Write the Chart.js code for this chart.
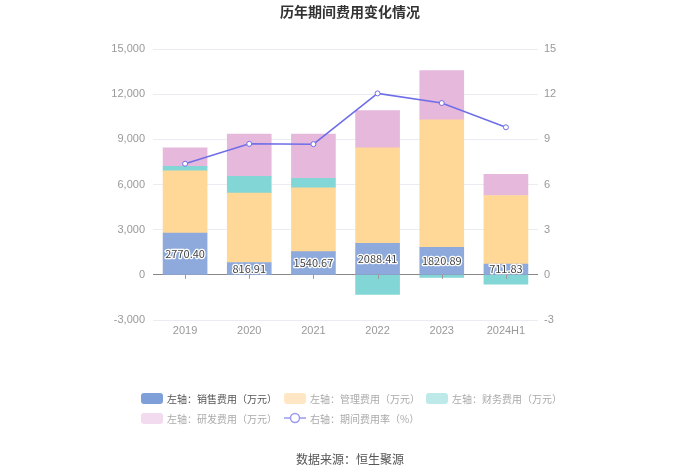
<!DOCTYPE html>
<html lang="zh">
<head>
<meta charset="UTF-8">
<title>历年期间费用变化情况</title>
<script src="https://cdn.jsdelivr.net/npm/chart.js"></script>
<style>
    body { margin: 0; background: #fff; font-family: "Noto Sans CJK SC", sans-serif; }
    .wrap { position: relative; width: 700px; height: 474px; }
    canvas { display: block; }
    .title { position: absolute; top: 1px; left: 0; width: 700px; text-align: center;
             font-size: 14px; font-weight: bold; color: #333; }
    .legend { position: absolute; left: 141px; top: 390px; font-size: 10px; }
    .legend .item { position: absolute; white-space: nowrap; display: flex; align-items: center; height: 16px; }
    .legend .box { width: 22px; height: 11px; border-radius: 3px; margin-right: 4px; }
    .source { position: absolute; top: 450px; left: 0; width: 700px; text-align: center; font-size: 12px; color: #555; }
</style>
</head>
<body>
<div class="wrap">
    <canvas id="chart" width="700" height="474"></canvas>
    <div class="title">历年期间费用变化情况</div>
    <div class="legend" id="legend"></div>
    <div class="source">数据来源：恒生聚源</div>
</div>
<script>
    // data
    var years = ['2019', '2020', '2021', '2022', '2023', '2024H1'];
    var salesCost = [2770.40, 816.91, 1540.67, 2088.41, 1820.89, 711.83];
    var adminCost = [4130, 4620, 4230, 6350, 8470, 4556];
    var financeCost = [300, 1100, 640, -1300, -180, -615];
    var rdCost = [1240, 2820, 2930, 2465, 3280, 1408];
    var expenseRate = [7.38, 8.70, 8.68, 12.05, 11.41, 9.80];
    var leftTicks = [-3000, 0, 3000, 6000, 9000, 12000, 15000];
    var rightTicks = [-3, 0, 3, 6, 9, 12, 15];

    var blue = '#8eaadc', orange = '#ffd898', teal = '#82d6d6', pink = '#e6b8dc', purple = '#6e6ee8';

    // value labels on the sales bars
    var barLabels = {
        id: 'barLabels',
        afterDatasetsDraw: function (chart) {
            var ctx = chart.ctx;
            var meta = chart.getDatasetMeta(0);
            ctx.save();
            ctx.font = '11px "Noto Sans CJK SC", sans-serif';
            ctx.textAlign = 'center';
            ctx.textBaseline = 'middle';
            ctx.lineJoin = 'round';
            meta.data.forEach(function (bar, i) {
                var y = (bar.y + bar.base) / 2;
                var txt = salesCost[i].toFixed(2);
                ctx.strokeStyle = '#fff';
                ctx.lineWidth = 2.5;
                ctx.strokeText(txt, bar.x, y);
                ctx.fillStyle = '#444';
                ctx.fillText(txt, bar.x, y);
            });
            // small ticks under the zero line
            var ys = chart.scales.y.getPixelForValue(0);
            ctx.strokeStyle = '#999';
            ctx.lineWidth = 1;
            meta.data.forEach(function (bar) {
                ctx.beginPath();
                ctx.moveTo(Math.round(bar.x) + 0.5, ys);
                ctx.lineTo(Math.round(bar.x) + 0.5, ys + 4);
                ctx.stroke();
            });
            ctx.restore();
        }
    };

    var ctx = document.getElementById('chart').getContext('2d');
    var chart = new Chart(ctx, {
        type: 'bar',
        data: {
            labels: years,
            datasets: [
                { label: '左轴：销售费用（万元）', data: salesCost, backgroundColor: blue, yAxisID: 'y', stack: 's', order: 2 },
                { label: '左轴：管理费用（万元）', data: adminCost, backgroundColor: orange, yAxisID: 'y', stack: 's', order: 2 },
                { label: '左轴：财务费用（万元）', data: financeCost, backgroundColor: teal, yAxisID: 'y', stack: 's', order: 2 },
                { label: '左轴：研发费用（万元）', data: rdCost, backgroundColor: pink, yAxisID: 'y', stack: 's', order: 2 },
                {
                    label: '右轴：期间费用率（%）', type: 'line', data: expenseRate, yAxisID: 'y1', order: 1,
                    borderColor: purple, borderWidth: 1.5, pointRadius: 2.5, pointBorderWidth: 1,
                    pointBackgroundColor: '#fff', pointBorderColor: purple, tension: 0
                }
            ]
        },
        options: {
            responsive: false,
            animation: false,
            layout: { padding: { left: 98, right: 122, top: 49, bottom: 126 } },
            datasets: { bar: { barThickness: 44 } },
            plugins: {
                legend: { display: false },
                tooltip: { enabled: false }
            },
            scales: {
                x: {
                    stacked: true,
                    grid: { display: false, drawTicks: false },
                    border: { display: false },
                    ticks: { color: '#999', font: { size: 11 }, padding: 4 },
                    afterFit: function (s) { s.height = 28; }
                },
                y: {
                    stacked: true,
                    position: 'left',
                    min: -3000, max: 15000,
                    afterBuildTicks: function (s) { s.ticks = leftTicks.map(function (v) { return { value: v }; }); },
                    ticks: {
                        color: '#999', font: { size: 11 }, padding: 8,
                        callback: function (v) { return v.toLocaleString('en-US'); }
                    },
                    grid: {
                        drawTicks: false,
                        color: function (c) { return c.tick && c.tick.value === 0 ? '#888' : '#ebebf2'; }
                    },
                    border: { display: false },
                    afterFit: function (s) { s.width = 55; }
                },
                y1: {
                    position: 'right',
                    min: -3, max: 15,
                    afterBuildTicks: function (s) { s.ticks = rightTicks.map(function (v) { return { value: v }; }); },
                    ticks: { color: '#999', font: { size: 11 }, padding: 6 },
                    grid: { display: false, drawTicks: false },
                    border: { display: false },
                    afterFit: function (s) { s.width = 40; }
                }
            }
        },
        plugins: [barLabels]
    });

    // html legend laid out like the reference
    var legendItems = [
        { text: '左轴：销售费用（万元）', color: '#7f9fd8', textColor: '#555', x: 0, y: 0 },
        { text: '左轴：管理费用（万元）', color: '#ffe6c4', textColor: '#aaa', x: 143, y: 0 },
        { text: '左轴：财务费用（万元）', color: '#bde9e9', textColor: '#aaa', x: 285, y: 0 },
        { text: '左轴：研发费用（万元）', color: '#f2dbee', textColor: '#aaa', x: 0, y: 20 },
        { text: '右轴：期间费用率（%）', line: true, color: '#9a9af0', textColor: '#aaa', x: 143, y: 20 }
    ];
    var legend = document.getElementById('legend');
    legendItems.forEach(function (it) {
        var d = document.createElement('div');
        d.className = 'item';
        d.style.left = it.x + 'px';
        d.style.top = it.y + 'px';
        d.style.color = it.textColor;
        if (it.line) {
            d.innerHTML = '<svg width="22" height="12" style="margin-right:4px"><line x1="0" y1="6" x2="22" y2="6" stroke="' + it.color +
                '" stroke-width="1.5"/><circle cx="11" cy="6" r="4.5" fill="#fff" stroke="' + it.color + '" stroke-width="1.5"/></svg>' + it.text;
        } else {
            d.innerHTML = '<span class="box" style="background:' + it.color + '"></span>' + it.text;
        }
        legend.appendChild(d);
    });
</script>
</body>
</html>
